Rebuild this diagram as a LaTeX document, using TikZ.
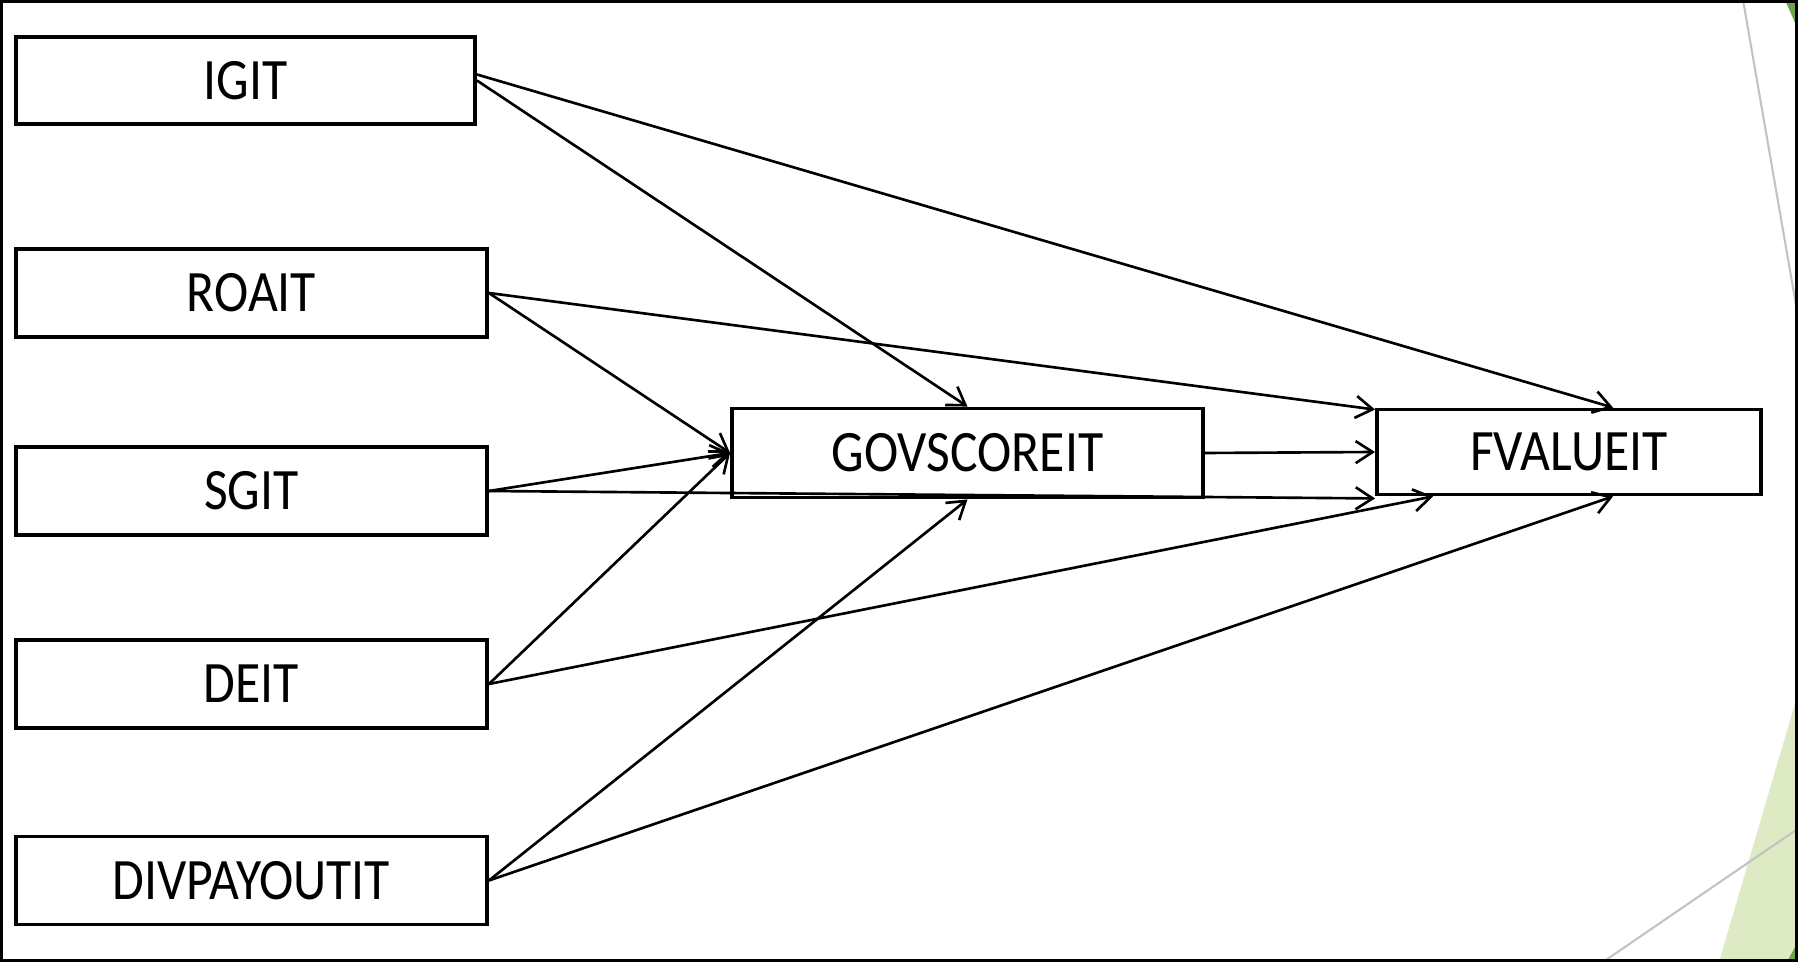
\documentclass[tikz,border=0pt]{standalone}
\usepackage{fontspec}
\setmainfont{Carlito}[FakeStretch=0.88]
\usetikzlibrary{positioning,arrows.meta}

\definecolor{leafgreen}{RGB}{108,165,72}
\definecolor{palegreen}{RGB}{221,234,196}
\definecolor{thingray}{RGB}{195,195,195}

\begin{document}
\begin{tikzpicture}[>={Straight Barb[length=1.7mm,width=2.2mm]}]

\tikzset{
  block/.style={
    rectangle, draw, line width=1.1pt, align=center,
    minimum width=4.71cm, minimum height=0.88cm,
    inner sep=0pt, font=\fontsize{16.7}{19}\selectfont
  },
  arrow/.style={->, line width=0.75pt},
  deco/.style={line width=0.6pt, draw=thingray}
}

\useasboundingbox (0,0) rectangle (17.98,-9.62);

% ==========================
% Slide background and frame
% ==========================
\fill[palegreen] (17.19,-9.62) -- (17.96,-7.0) -- (17.96,-9.62) -- cycle;
\fill[leafgreen] (17.87,-9.62) -- (17.96,-9.45) -- (17.96,-9.62) -- cycle;
\fill[leafgreen] (17.85,0) -- (17.96,0) -- (17.96,-0.25) -- cycle;
\draw[deco] (17.43,0) -- (17.96,-3.05);
\draw[deco] (16.03,-9.62) -- (17.96,-8.30);
\draw[line width=0.9pt] (0.015,-0.015) rectangle (17.965,-9.605);

% ==========================
% Left column: explanatory variables
% ==========================
\node[block, minimum width=4.59cm, minimum height=0.87cm] (igit) at (2.455,-0.805) {IGIT};
\node[block] (roait) at (2.515,-2.93) {ROAIT};
\node[block] (sgit) at (2.515,-4.91) {SGIT};
\node[block] (deit) at (2.515,-6.84) {DEIT};
\node[block] (divpay) at (2.515,-8.805) {DIVPAYOUTIT};

% ==========================
% Mediator and outcome
% ==========================
\node[block, minimum height=0.89cm] (govscore) at (9.675,-4.53) {GOVSCOREIT};
\node[block, minimum width=3.84cm, minimum height=0.85cm] (fvalue) at (15.69,-4.52) {FVALUEIT};

% Paths into the mediator
\draw[arrow] (igit.east) -- (govscore.north);
\draw[arrow] (roait.east) -- (govscore.west);
\draw[arrow] (sgit.east) -- (govscore.west);
\draw[arrow] (deit.east) -- (govscore.west);
\draw[arrow] (divpay.east) -- (govscore.south);

% Mediator to outcome
\draw[arrow] (govscore.east) -- (fvalue.west);

% Direct paths into the outcome
\draw[arrow] ([yshift=0.06cm]igit.east) -- ([xshift=0.44cm]fvalue.north);
\draw[arrow] (roait.east) -- ([yshift=-0.02cm]fvalue.north west);
\draw[arrow] (sgit.east) -- ([yshift=-0.02cm]fvalue.south west);
\draw[arrow] (deit.east) -- ([xshift=0.58cm]fvalue.south west);
\draw[arrow] (divpay.east) -- ([xshift=0.44cm]fvalue.south);

\end{tikzpicture}
\end{document}
